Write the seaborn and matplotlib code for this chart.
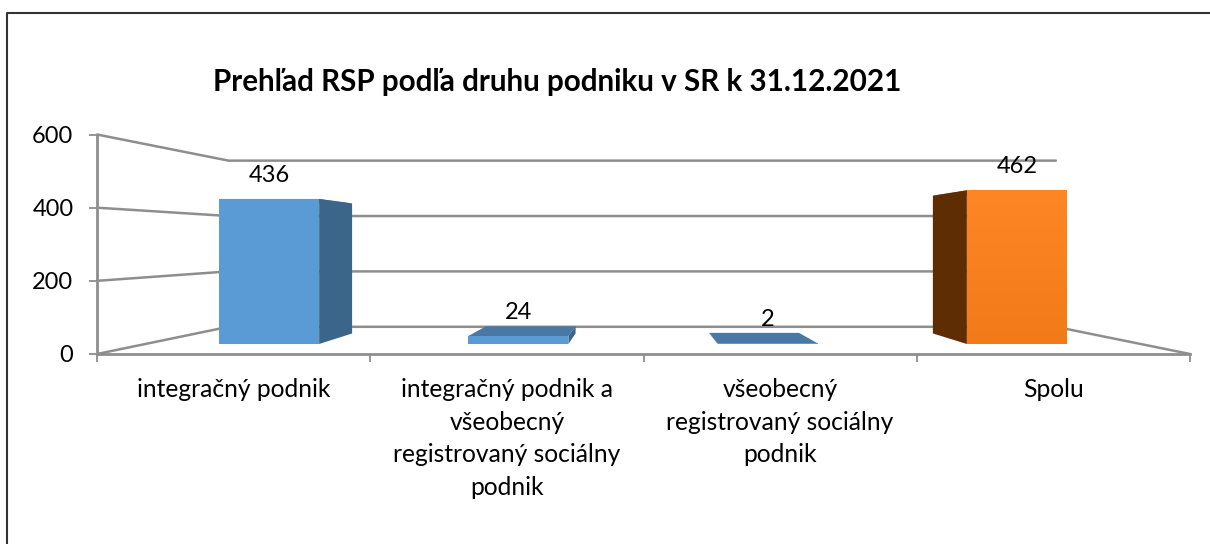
import matplotlib
matplotlib.use("Agg")
import matplotlib.pyplot as plt
import numpy as np
import seaborn as sns
from matplotlib.colors import LinearSegmentedColormap
from matplotlib.lines import Line2D
from matplotlib.patches import Polygon

categories = [
    "integračný podnik",
    "integračný podnik a\nvšeobecný\nregistrovaný sociálny\npodnik",
    "všeobecný\nregistrovaný sociálny\npodnik",
    "Spolu",
]
values = [436, 24, 2, 462]
y_ticks = [0, 200, 400, 600]
title = "Prehľad RSP podľa druhu podniku v SR k 31.12.2021"

front_colors = ["#5B9BD5", "#5B9BD5", "#5B9BD5", "#F98020"]
side_colors = ["#3B6689", "#3B6689", "#3B6689", "#5E2D04"]
top_colors = ["#4A78A5", "#4A78A5", "#4A78A5", "#C46518"]

W, H = 1210, 544
GRID = "#8E8E8E"
# shared vanishing point of the fake 3d, in data units
VP_X, VP_Y = 1.48, 306
WALL = 0.757    # back wall size relative to the front plane
DEPTH = 0.1034  # how far a bar goes back


def px_box(left, right, top, bottom):
    return [left / W, 1 - bottom / H, (right - left) / W, (bottom - top) / H]


def to_back(x, y, k):
    return VP_X + (x - VP_X) * k, VP_Y + (y - VP_Y) * k


sns.set_style("white")
plt.rcParams["font.family"] = ["Lato", "DejaVu Sans"]
FS = 17
FS_CAT = 17.7

fig = plt.figure(figsize=(W / 100, H / 100), dpi=100)

# --------- Front plane with the axes --------- #
ax = fig.add_axes(px_box(97, 1190, 134.5, 354))
ax.set_xlim(-0.5, 3.5)
ax.set_ylim(0, 600)
ax.set_yticks(y_ticks)
ax.set_xticks([-0.5, 0.5, 1.5, 2.5, 3.5])
ax.set_xticklabels([])
ax.set_xticks(range(len(categories)), categories, minor=True, linespacing=1.5, fontsize=FS_CAT, color="black", va="top")
ax.tick_params(axis="x", which="minor", length=0, pad=17.5)
ax.tick_params(axis="x", which="major", length=6, width=1.3, color=GRID, bottom=True)
ax.tick_params(axis="y", length=6, width=1.3, color=GRID, labelsize=FS, labelcolor="black", left=True, pad=11)
sns.despine(ax=ax)
for side in ["left", "bottom"]:
    ax.spines[side].set_color(GRID)
    ax.spines[side].set_linewidth(2.0)

for v in y_ticks:
    bx0, by = to_back(-0.5, v, WALL)
    bx1, _ = to_back(3.5, v, WALL)
    ax.plot([-0.5, bx0, bx1], [v, by, by], color=GRID, lw=1.8, clip_on=False)
bx1, by = to_back(3.5, 0, WALL)
ax.plot([bx1, 3.5], [by, 0], color=GRID, lw=1.8, clip_on=False)

# --------- Bars on their own plane --------- #
ax_bars = fig.add_axes(px_box(144.5, 1141.5, 144.4, 344))
ax_bars.patch.set_alpha(0)
sns.barplot(x=categories, y=values, hue=categories, palette=front_colors, dodge=False, width=100 / 249.25,
            legend=False, saturation=1, linewidth=0, ax=ax_bars, zorder=3)
ax_bars.set_xlim(-0.5, 3.5)
ax_bars.set_ylim(0, 600)
ax_bars.axis("off")

for i, bar in enumerate(ax_bars.patches[:len(values)]):
    x0, x1 = bar.get_x(), bar.get_x() + bar.get_width()
    y0, y1 = bar.get_y(), bar.get_y() + bar.get_height()
    k = 1 - DEPTH
    side_x = x1 if x1 < VP_X else x0
    side = [(side_x, y0), (side_x, y1), to_back(side_x, y1, k), to_back(side_x, y0, k)]
    top = [(x0, y1), (x1, y1), to_back(x1, y1, k), to_back(x0, y1, k)]
    ax_bars.add_patch(Polygon(top, color=top_colors[i], lw=0, zorder=2))
    ax_bars.add_patch(Polygon(side, color=side_colors[i], lw=0, zorder=2))

# the orange bar fades a little towards the floor
orange = LinearSegmentedColormap.from_list("orange", ["#F37A18", "#FF8624"])
last = ax_bars.patches[len(values) - 1]
img = ax_bars.imshow(np.linspace(1, 0, 64).reshape(-1, 1), cmap=orange, aspect="auto", zorder=4,
                     extent=[last.get_x(), last.get_x() + last.get_width(), 0, last.get_height()])
img.set_clip_path(last)
ax_bars.set_xlim(-0.5, 3.5)
ax_bars.set_ylim(0, 600)

for container in ax_bars.containers:
    ax_bars.bar_label(container, padding=9.5, fontsize=FS, color="black", zorder=5)

# --------- Title and frame --------- #
fig.text(557 / W, 1 - 82 / H, title, ha="center", va="center", fontsize=21.3, fontweight="bold", color="black")
fig.add_artist(Line2D([7 / W, 7 / W, 1], [0, 1 - 13 / H, 1 - 13 / H], color="#333333", lw=1.5))

fig.savefig("out.png", dpi=100)
